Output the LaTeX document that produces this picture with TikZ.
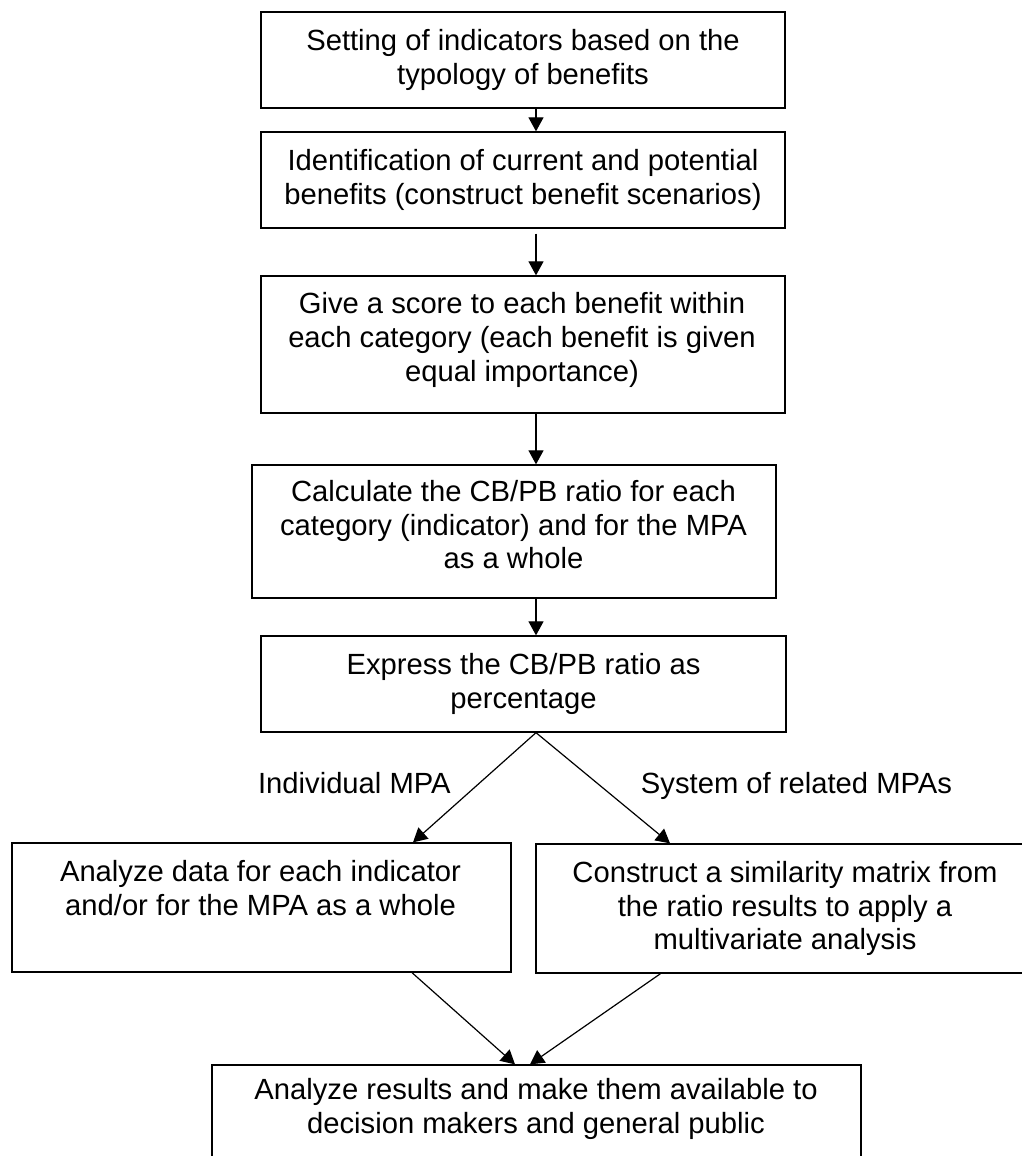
\documentclass[tikz,border=0pt]{standalone}
\usepackage{fontspec}
\setmainfont{Liberation Sans}
\usetikzlibrary{arrows.meta}
\tikzset{
  box/.style={draw=black, line width=1.3pt, inner sep=0pt, align=center, font=\fontsize{29.2pt}{33.6pt}\selectfont},
  txt/.style={inner sep=0pt, align=center, font=\fontsize{29.2pt}{33.6pt}\selectfont},
  arr/.style={draw=black, line width=1.2pt, -{Triangle[length=14pt,width=15pt]}},
}
\begin{document}
\begin{tikzpicture}[x=1pt,y=-1pt]
\useasboundingbox (0,0) rectangle (1021,1156);
\fill[white] (0,0) rectangle (1021,1156);
\coordinate (spine) at (536,0);
% boxes
\node[box, minimum width=524pt, minimum height=96pt] (b1) at (523,60) {Setting of indicators based on the\\typology of benefits};
\node[box, minimum width=524pt, minimum height=96pt] (b2) at (523,180) {Identification of current and potential\\benefits (construct benefit scenarios)};
\node[box, minimum width=524pt, minimum height=137pt] (b3) at (523,344.5) {};
\node[txt] (t3) at (522,340) {Give a score to each benefit within\\each category (each benefit is given\\equal importance)};
\node[box, minimum width=524pt, minimum height=133pt] (b4) at (514,531.5) {};
\node[txt] (t4) at (513.5,524.7) {Calculate the CB/PB ratio for each\\category (indicator) and for the MPA\\as a whole};
\node[box, minimum width=525pt, minimum height=96pt] (b5) at (523.5,684) {Express the CB/PB ratio as\\percentage};
\node[box, minimum width=499pt, minimum height=129pt] (b6) at (261.5,907.5) {};
\node[txt] (t6) at (260.5,888) {Analyze data for each indicator\\and/or for the MPA as a whole};
\node[box, minimum width=498pt, minimum height=129pt] (b7) at (785,908.5) {Construct a similarity matrix from\\the ratio results to apply a\\multivariate analysis};
\node[box, minimum width=649pt, minimum height=110pt] (b8) at (536.5,1120) {};
\node[txt] (t8) at (536,1109.2) {Analyze results and make them available to\\decision makers and general public};
% branch labels
\node[txt, anchor=base] (l1) at (354.4,793) {Individual MPA};
\node[txt, anchor=base] (l2) at (796.5,793) {System of related MPAs};
% connectors
\draw[arr] (b1.south -| spine) -- (b2.north -| spine);
\draw[arr, shorten <=5pt] (b2.south -| spine) -- (b3.north -| spine);
\draw[arr] (b3.south -| spine) -- (b4.north -| spine);
\draw[arr] (b4.south -| spine) -- (b5.north -| spine);
\draw[arr] (b5.south -| spine) -- ([xshift=151.5pt]b6.north);
\draw[arr] (b5.south -| spine) -- ([xshift=-115pt]b7.north);
\draw[arr] ([xshift=150.5pt]b6.south) -- ([xshift=-21.5pt]b8.north);
\draw[arr] ([xshift=-124.5pt]b7.south) -- ([xshift=-6.5pt]b8.north);
\end{tikzpicture}
\end{document}
